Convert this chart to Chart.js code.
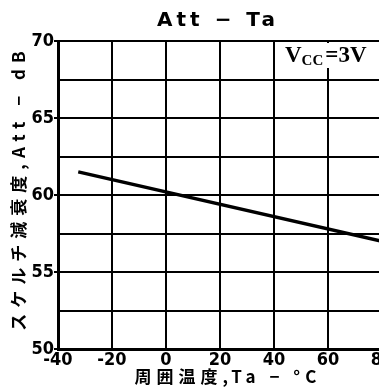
<!DOCTYPE html>
<html>
<head>
<meta charset="utf-8">
<script src="https://cdn.jsdelivr.net/npm/chart.js@4.4.0/dist/chart.umd.min.js"></script>
<style>
html, body { margin: 0; padding: 0; overflow: hidden; background: #fff; }
#wrap { width: 395px; height: 392px; }
</style>
</head>
<body>
<div id="wrap"><canvas id="grafico" width="395" height="392"></canvas></div>
<script>
// Datos (Att vs Ta, Vcc = 3V)
const temperaturas = [-32.5, 80];
const atenuacion = [61.5, 57.0];
const etiquetasY = [50, 55, 60, 65, 70];
const titulo = 'Att − Ta';
const tituloX = '周囲温度,Ta − °C';
const tituloY = 'スケルチ減衰度,Att − dB';
const nota = ['V', 'CC', '=3V'];

const fuenteNum = { family: '"Liberation Sans Narrow", "DejaVu Sans Condensed", sans-serif', size: 18, weight: 'bold' };

// textos con espaciado entre letras, como en la hoja escaneada
const textos = {
    id: 'textos',
    afterDraw(chart) {
        const ctx = chart.ctx;
        ctx.save();
        ctx.fillStyle = '#000';
        ctx.textAlign = 'center';
        ctx.textBaseline = 'middle';

        ctx.letterSpacing = '4px';
        ctx.font = 'bold 20px "DejaVu Sans"';
        ctx.fillText(titulo, 218, 21);

        ctx.letterSpacing = '5px';
        ctx.font = 'bold 17px "Noto Sans CJK JP"';
        ctx.fillText(tituloX, 228, 377);

        ctx.save();
        ctx.translate(19, 188);
        ctx.rotate(-Math.PI / 2);
        ctx.letterSpacing = '6px';
        ctx.fillText(tituloY, 0, 0);
        ctx.restore();

        // recuadro Vcc = 3V
        ctx.letterSpacing = '0px';
        ctx.fillStyle = '#fff';
        ctx.fillRect(281, 43, 100, 25);
        ctx.fillStyle = '#000';
        ctx.textAlign = 'left';
        ctx.textBaseline = 'alphabetic';
        let x = 285;
        ctx.font = 'bold 23px "Liberation Serif"';
        ctx.fillText(nota[0], x, 62);
        x += ctx.measureText(nota[0]).width;
        ctx.font = 'bold 15px "Liberation Serif"';
        ctx.fillText(nota[1], x, 65);
        x += ctx.measureText(nota[1]).width + 2;
        ctx.font = 'bold 23px "Liberation Serif"';
        ctx.fillText(nota[2], x, 62);
        ctx.restore();
    }
};

new Chart(document.getElementById('grafico').getContext('2d'), {
    type: 'line',
    data: {
        datasets: [{
            data: temperaturas.map((t, i) => ({ x: t, y: atenuacion[i] })),
            borderColor: '#000',
            borderWidth: 3.5,
            pointRadius: 0,
            tension: 0,
            fill: false
        }]
    },
    options: {
        responsive: false,
        animation: false,
        devicePixelRatio: 1,
        layout: { padding: { left: 0, right: 13, top: 41, bottom: 0 } },
        plugins: {
            legend: { display: false },
            tooltip: { enabled: false },
            title: { display: false }
        },
        scales: {
            x: {
                type: 'linear',
                min: -40,
                max: 80,
                ticks: { stepSize: 20, color: '#000', font: fuenteNum, padding: 1, maxRotation: 0, autoSkip: false },
                grid: { color: '#000', lineWidth: 2, drawTicks: false },
                border: { color: '#000', width: 3 },
                afterFit: s => { s.height = 43; }
            },
            y: {
                min: 50,
                max: 70,
                ticks: {
                    stepSize: 2.5,
                    color: '#000',
                    font: fuenteNum,
                    padding: 0,
                    callback: v => etiquetasY.includes(v) ? v : ''
                },
                grid: {
                    color: '#000',
                    lineWidth: 2,
                    tickLength: 4,
                    tickColor: c => (c.tick && c.tick.value % 5 === 0) ? '#000' : 'rgba(0,0,0,0)'
                },
                border: { color: '#000', width: 3 },
                afterFit: s => { s.width = 58; }
            }
        }
    },
    plugins: [textos]
});
</script>
</body>
</html>
